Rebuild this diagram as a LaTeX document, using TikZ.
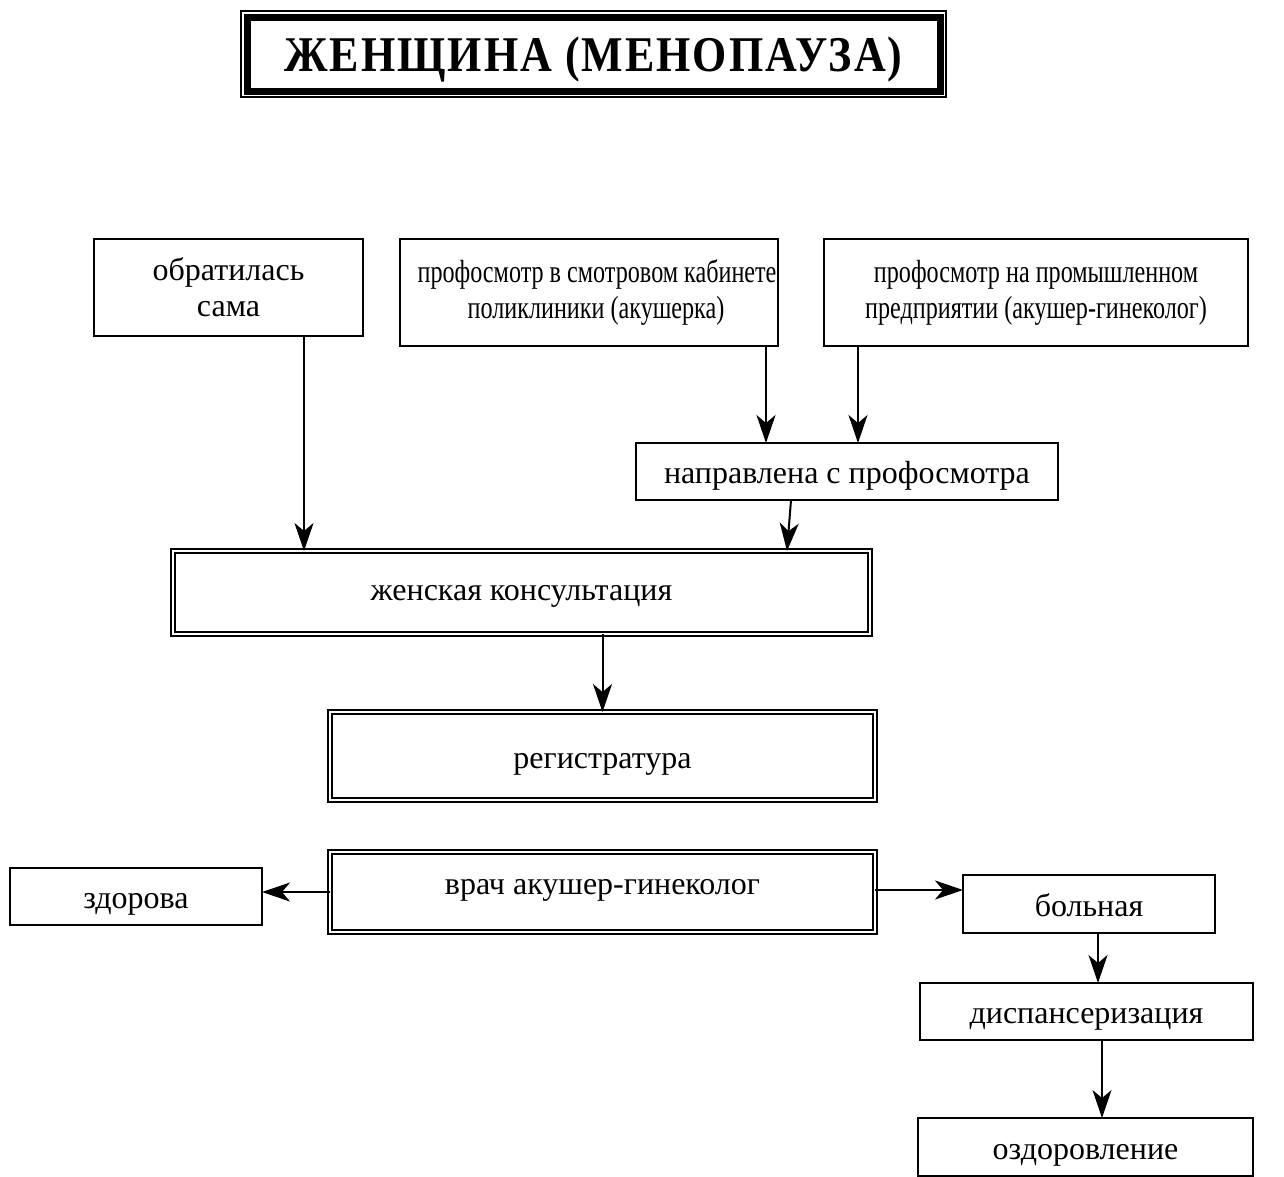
\documentclass[tikz,border=0pt]{standalone}
\usepackage{fontspec}
\setmainfont{Liberation Serif}
\newfontfamily\narrowfont[FakeStretch=0.755]{Liberation Serif}
\newfontfamily\titlefont[FakeStretch=0.88, LetterSpace=4]{Liberation Serif}
\usetikzlibrary{arrows.meta}

\begin{document}
\begin{tikzpicture}[x=1pt,y=-1pt,
  every node/.style={inner sep=0pt, outer sep=0pt, align=center,
    font=\fontsize{32}{36}\selectfont},
  box/.style={draw, line width=2.2pt},
  dbox/.style={draw, double, double distance=2.4pt, line width=1.7pt},
  oneline/.style={text height=30pt, text depth=6pt},
  titlebox/.style={draw, line width=7pt},
  narrowtext/.style={font=\narrowfont\fontsize{32}{36}\selectfont},
  arr/.style={line width=2pt, -{Stealth[length=28pt, width=19pt, inset=8pt]}}]

\useasboundingbox (0,0) rectangle (1284,1176);

% heading
\node[titlebox, minimum width=693, minimum height=74, text height=34pt, text depth=0pt]
  (title) at (593.5,54)
  {\titlefont\bfseries\fontsize{50}{54}\selectfont ЖЕНЩИНА (МЕНОПАУЗА)};
\draw[line width=1.2pt] ([shift={(-6,-6)}]title.north west)
  rectangle ([shift={(6,6)}]title.south east);

% sources of referral
\node[box, minimum width=269, minimum height=97] (self) at (228.5,287.5)
  {обратилась\\сама};
\node[box, narrowtext, minimum width=378, minimum height=107] (pr1) at (589,292.5)
  {\hspace*{16pt}профосмотр в смотровом кабинете\\\hspace*{14pt}поликлиники (акушерка)};
\node[box, narrowtext, minimum width=424, minimum height=107] (pr2) at (1036,292.5)
  {профосмотр на промышленном\\предприятии (акушер-гинеколог)};
\node[box, oneline, minimum width=422, minimum height=57] (napr) at (847,471.5)
  {направлена с профосмотра};

% clinic
\node[dbox, text height=22pt, text depth=6pt, minimum width=697, minimum height=83]
  (zk) at (521.5,592.5) {женская консультация};
\node[dbox, oneline, minimum width=545, minimum height=88] (reg) at (602.5,756)
  {регистратура};
\node[dbox, minimum width=545, minimum height=80, text height=28pt, text depth=24pt]
  (vrach) at (602.5,892) {врач акушер-гинеколог};

% outcomes
\node[box, oneline, minimum width=252, minimum height=57] (zdor) at (136,896.5) {здорова};
\node[box, oneline, minimum width=252, minimum height=58] (boln) at (1089,904) {больная};
\node[box, oneline, minimum width=333, minimum height=57] (disp) at (1086.5,1011.5)
  {диспансеризация};
\node[box, oneline, minimum width=335, minimum height=58] (ozd) at (1085.5,1147)
  {оздоровление};

% connectors
\draw[arr] ([xshift=75.5pt]self.south) coordinate (s1) -- (s1 |- zk.north);
\draw[arr] ([xshift=177pt]pr1.south) coordinate (s2) -- (s2 |- napr.north);
\draw[arr] ([xshift=-178pt]pr2.south) coordinate (s3) -- (s3 |- napr.north);
\draw[arr] ([xshift=-56pt]napr.south) -- ([xshift=265.5pt]zk.north);
\draw[arr] (zk.south -| reg.north) -- (reg.north);
\draw[arr] (vrach.west) -- (vrach.west -| zdor.east);
\draw[arr] ([yshift=2pt]vrach.east) coordinate (s4) -- (s4 -| boln.west);
\draw[arr] ([xshift=9pt]boln.south) coordinate (s5) -- (s5 |- disp.north);
\draw[arr] ([xshift=15.5pt]disp.south) coordinate (s6) -- (s6 |- ozd.north);
\end{tikzpicture}
\end{document}
